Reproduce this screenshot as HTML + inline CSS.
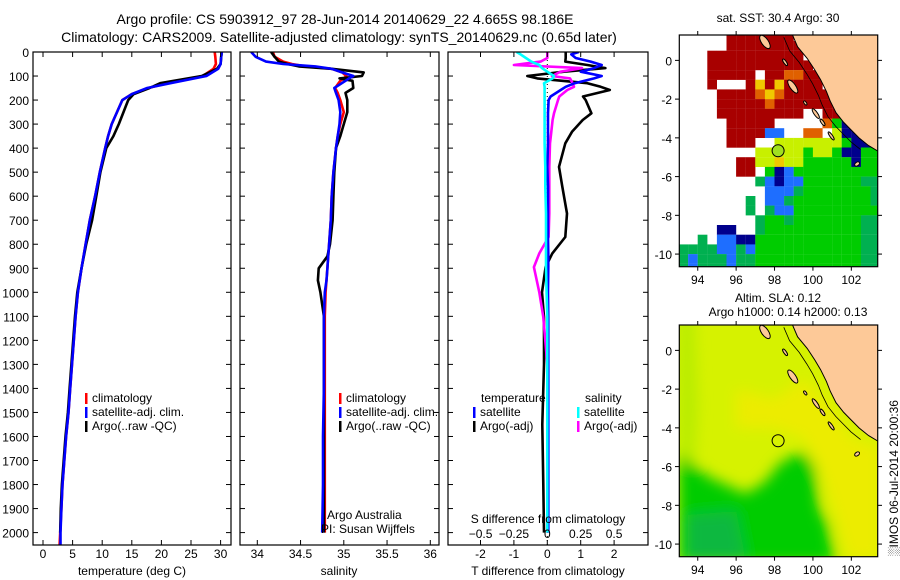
<!DOCTYPE html>
<html><head><meta charset="utf-8"><style>
html,body{margin:0;padding:0;background:#fff;}
svg{display:block;font-family:"Liberation Sans",sans-serif;}
text{font-size:12px;fill:#000;}
</style></head><body>
<svg id="chart" width="900" height="580" viewBox="0 0 900 580" xmlns="http://www.w3.org/2000/svg">
<defs>
<clipPath id="clipTop"><rect x="679.3" y="35" width="198.4" height="231.7"/></clipPath>
<clipPath id="clipBot"><rect x="679.3" y="325" width="198.4" height="231.7"/></clipPath>
<clipPath id="clipP1"><rect x="33" y="52" width="198" height="493"/></clipPath>
<clipPath id="clipP2"><rect x="240" y="52" width="199" height="493"/></clipPath>
<clipPath id="clipP3"><rect x="448" y="52" width="200" height="493"/></clipPath>
<filter id="blur" x="-20%" y="-20%" width="140%" height="140%"><feGaussianBlur stdDeviation="7"/></filter>
</defs>
<text x="345" y="24" text-anchor="middle" style="font-size:14px">Argo profile: CS 5903912_97 28-Jun-2014 20140629_22 4.665S 98.186E</text>
<text x="339" y="42" text-anchor="middle" style="font-size:14px">Climatology: CARS2009. Satellite-adjusted climatology: synTS_20140629.nc (0.65d later)</text>
<g id="g"></g>
</svg>
<script>
// ---------- data ----------
const depthTemp = [0,20,50,70,100,130,150,175,200,250,300,350,400,500,600,700,800,900,1000,1100,1200,1300,1400,1500,1600,1700,1800,1900,2000,2050];
const tempClim  = [29.0,29.1,29.2,28.8,27.0,21.0,17.8,15.0,13.4,12.5,11.6,11.0,10.5,9.6,8.8,7.9,7.2,6.5,5.9,5.5,5.2,4.9,4.6,4.3,3.9,3.6,3.3,3.1,2.9,2.8];
const tempSat   = [30.2,30.1,30.0,29.6,27.6,21.5,17.6,15.0,13.4,12.5,11.6,11.0,10.5,9.6,8.8,7.9,7.2,6.5,5.9,5.5,5.2,4.9,4.6,4.3,3.9,3.6,3.3,3.1,2.95,2.95];
const depthArgoT = [0,20,50,70,100,130,150,175,200,250,300,350,400,500,600,700,800,900,1000,1100,1200,1300,1400,1500,1600,1700,1800,1900,2000];
const tempArgo  = [30.2,30.1,30.0,29.4,26.8,19.8,18.0,15.3,14.4,13.6,12.8,11.9,10.7,9.7,9.0,8.3,7.3,6.5,5.8,5.4,5.1,4.8,4.5,4.2,3.8,3.5,3.2,3.0,2.9];
const depthSal = [0,20,40,50,60,70,85,100,110,120,150,170,200,250,300,350,400,500,600,700,800,850,900,950,1000,1100,1200,1400,1600,1800,2000];
const salClim = [34.18,34.2,34.3,34.4,34.56,34.86,34.98,35.03,35.0,34.96,34.9,34.93,34.96,35.0,34.96,34.93,34.91,34.88,34.86,34.85,34.83,34.82,34.81,34.8,34.79,34.78,34.78,34.78,34.78,34.78,34.78];
const salSat  = [33.93,33.98,34.1,34.3,34.67,34.86,34.98,35.11,35.06,35.02,34.89,34.91,34.94,34.96,34.95,34.93,34.91,34.88,34.86,34.85,34.83,34.82,34.81,34.8,34.78,34.77,34.77,34.77,34.76,34.76,34.75];
const salArgo = [34.16,34.2,34.25,34.35,34.48,34.86,35.23,35.21,34.95,35.1,35.11,35.02,35.04,35.04,35.0,34.96,34.91,34.89,34.88,34.87,34.84,34.81,34.71,34.70,34.73,34.77,34.77,34.77,34.77,34.77,34.77];
const depthDiff = [0,10,25,40,54,67,82,100,110,130,145,158,185,200,255,283,332,380,478,560,672,770,838,895,1000,1103,1300,1550,1800,2000];
const dTSat  = [0.94,0.72,0.85,1.3,1.63,1.4,1.0,1.63,1.4,0.82,0.55,0.4,0.1,0.04,0.02,0.02,0.02,0.02,0.0,0.02,0.02,0.02,0.03,0.03,0.02,0.03,0.03,0.03,0.03,0.03];
const dTArgo = [0.55,0.55,0.55,0.54,1.2,1.74,0.5,-0.6,-0.3,1.2,1.6,1.87,1.07,1.15,1.32,1.06,0.74,0.54,0.35,0.45,0.59,0.54,0.15,-0.05,-0.16,-0.1,-0.1,-0.15,-0.12,-0.1];
const dSSat  = [-0.23,-0.2,-0.16,-0.12,-0.06,-0.04,0.0,0.05,0.04,-0.025,-0.02,-0.02,-0.02,-0.02,-0.02,-0.02,-0.02,-0.02,-0.015,-0.015,-0.01,-0.01,-0.01,-0.01,-0.005,0,0,0,0,0];
const dSArgo = [0,0,0,-0.05,-0.25,0.26,0.1,0.035,0.17,0.19,0.2,0.15,0.09,0.08,0.05,0.04,0.03,0.02,0.015,0.015,0.015,0.01,-0.06,-0.1,-0.06,-0.03,0,0.005,0.005,0.005];
const depthTicks = [0,100,200,300,400,500,600,700,800,900,1000,1100,1200,1300,1400,1500,1600,1700,1800,1900,2000];
const tempTicks = [0,5,10,15,20,25,30];
const salTicks = [34,34.5,35,35.5,36];
const dTTicks = [-2,-1,0,1,2];
const dSTicks = [-0.5,-0.25,0,0.25,0.5];
const lonTicks = [94,96,98,100,102];
const latTicks = [0,-2,-4,-6,-8,-10];
// SST grid (0.5 deg cells, lon 93..103.5, lat 1.5..-11)
const sstRows = [
".....RRRRRRRLLLLLLLLL",
".....RRRRRRRRLLLLLLLL",
"...RRRRRRRRRRLLLLLLLL",
"...RRRRRRRRRRRLLLLLLL",
"...RRRRR.RROORRLLLLLL",
"...R...RYRYRRRRLLLLLL",
"....RRRROYORRRRRLLLLL",
"....RRRRRORRRRRRRLLLL",
"....RRRRRRRRR..RRRLLL",
".....RRRRR.....OGNLLL",
".....RRRRBB..OO.yNNLL",
".....RRR..yyyyyyyGNNN",
"........yyyyyGyyGNNGG",
"......RRyyYyyGGGGGNGG",
"......RR.GNBGGGGGGGGG",
"........gBNBBGGGGGGgg",
".........BBBgGGGGGGGg",
".......g.BBgGGGGGGGGg",
".......g.gBBGGGGGGGGG",
"........gGGgGGGGGGGgg",
"....NN..gGGGGGGGGGGgg",
"..g.BBNNGGGGGGGGGGGgg",
"ggggBBgBGGGGGGGGGGGgg",
"gBgggBggGGGGGGGGGGGgg",
"gBgggBggGGGGGGGGGGGgg"];
const argoLon = 98.186, argoLat = -4.665;

// ---------- scales ----------
const yD = d => 52 + d*0.2403;
const xT = t => 43 + t*5.92;
const xS = s => 257.3 + (s-34)*86.5;
const xDT = v => 547.3 + v*33.4;
const xDS = v => 547.3 + v*133.5;
const mX = lon => 679.3 + (lon-93.04)*19.2;
const mY = (lat,off) => off + 35 + (1.31-lat)*19.37;

const NS='http://www.w3.org/2000/svg';
const root=document.getElementById('g');
function mk(tag,attrs,parent){const e=document.createElementNS(NS,tag);for(const k in attrs)e.setAttribute(k,attrs[k]);(parent||root).appendChild(e);return e;}
function txt(x,y,s,anchor,parent){const t=mk('text',{x:x,y:y,'text-anchor':anchor||'start'},parent);t.textContent=s;return t;}

function line(xs,ds,fx,color,w,clip,name){
  let p='';
  for(let i=0;i<xs.length;i++){p+=(i?'L':'M')+fx(xs[i]).toFixed(1)+','+yD(ds[i]).toFixed(1);}
  const e=mk('path',{d:p,fill:'none',stroke:color,'stroke-width':w,'clip-path':'url(#'+clip+')','stroke-linejoin':'round'});
  
  
}
function box(x,y,w,h,name){const e=mk('rect',{x:x,y:y,width:w,height:h,fill:'none',stroke:'#000','stroke-width':1.2});
  
  }
function depthAxis(x0,x1,labels){
  depthTicks.forEach(d=>{const y=yD(d);
    mk('line',{x1:x0,y1:y,x2:x0+5,y2:y,stroke:'#000'});
    mk('line',{x1:x1,y1:y,x2:x1-5,y2:y,stroke:'#000'});
    if(labels){const t=txt(29,y+5,String(d),'end');
      
      }
  });
}
function xTicks(ticks,fx,labelY,fmt){
  ticks.forEach(v=>{const x=fx(v);
    mk('line',{x1:x,y1:52,x2:x,y2:57,stroke:'#000'});
    mk('line',{x1:x,y1:545,x2:x,y2:540,stroke:'#000'});
    if(labelY){const t=txt(x,labelY,fmt?fmt(v):String(v),'middle');
      
      }
  });
}
function legendBar(x,y,color,label){
  mk('rect',{x:x,y:y-9,width:2.5,height:11,fill:color});
  const t=txt(x+7,y,label);
  
  
}

// Panel 1 temperature
line(tempClim,depthTemp,xT,'#ff0000',2.6,'clipP1','temp-climatology-line');
line(tempArgo,depthArgoT,xT,'#000',2.6,'clipP1','temp-argo-line');
line(tempSat,depthTemp,xT,'#0000ff',2.6,'clipP1','temp-satellite-line');
box(33,52,198,493,'temperature-panel');
depthAxis(33,231,true);
xTicks(tempTicks,xT,558);
{const t=txt(132,575,'temperature (deg C)','middle');}
legendBar(85,402,'#ff0000','climatology');
legendBar(85,416,'#0000ff','satellite-adj. clim.');
legendBar(85,430,'#000','Argo(..raw -QC)');

// Panel 2 salinity
line(salClim,depthSal,xS,'#ff0000',2.6,'clipP2','sal-climatology-line');
line(salArgo,depthSal,xS,'#000',2.6,'clipP2','sal-argo-line');
line(salSat,depthSal,xS,'#0000ff',2.6,'clipP2','sal-satellite-line');
box(240,52,199,493,'salinity-panel');
depthAxis(240,439,false);
xTicks(salTicks,xS,558);
{const t=txt(339,575,'salinity','middle');}
legendBar(339,402,'#ff0000','climatology');
legendBar(339,416,'#0000ff','satellite-adj. clim.');
legendBar(339,430,'#000','Argo(..raw -QC)');
{const t=txt(327,519,'Argo Australia');
 const t2=txt(321,533,'PI: Susan Wijffels');}

// Panel 3 differences
mk('line',{x1:xDT(0),y1:52,x2:xDT(0),y2:545,stroke:'#000','stroke-dasharray':'1,3'});
line(dTArgo,depthDiff,xDT,'#000',2.6,'clipP3','dT-argo-line');
line(dSArgo,depthDiff,xDS,'#ff00ff',2.6,'clipP3','dS-argo-line');
line(dTSat,depthDiff,xDT,'#0000ff',2.6,'clipP3','dT-satellite-line');
line(dSSat,depthDiff,xDS,'#00ffff',2.6,'clipP3','dS-satellite-line');
box(448,52,200,493,'difference-panel');
depthAxis(448,648,false);
xTicks(dTTicks,xDT,558);
dSTicks.forEach(v=>{const t=txt(xDS(v),538,String(v).replace('-','\u2212'),'middle');
  
  });
{const t=txt(548,523,'S difference from climatology','middle');
 const t2=txt(548,575,'T difference from climatology','middle');}
{const t=txt(481,402,'temperature');
 const t2=txt(585,402,'salinity');}
legendBar(473,416,'#0000ff','satellite');
legendBar(473,430,'#000','Argo(-adj)');
legendBar(577,416,'#00ffff','satellite');
legendBar(577,430,'#ff00ff','Argo(-adj)');

// ---------- maps ----------
const land=[[98.9,1.4],[99.2,0.7],[99.7,0.1],[100.1,-0.5],[100.4,-1.0],[100.7,-1.6],[100.9,-2.1],[101.2,-2.7],[101.6,-3.2],[102.0,-3.6],[102.4,-4.0],[102.9,-4.4],[103.5,-4.75],[103.5,1.4]];
const islands=[[97.5,0.95,0.18,0.4],[98.55,-0.1,0.07,0.2],[98.95,-1.35,0.15,0.4],[99.6,-2.2,0.06,0.12],[100.15,-2.75,0.09,0.3],[100.5,-3.2,0.07,0.2],[100.95,-3.9,0.07,0.25],[102.3,-5.35,0.14,0.09]];
const sstColors={R:'#a80000',O:'#e06000',Y:'#f0c800',y:'#c8f000',G:'#00cc00',g:'#00b050',B:'#1e6eff',N:'#00008c'};
function mapFrame(off,name,clip){
  const g=mk('g',{'clip-path':'url(#'+clip+')'});
  
  
  return g;
}
function drawLand(g,off){
  let p='';land.forEach((c,i)=>{p+=(i?'L':'M')+mX(c[0]).toFixed(1)+','+mY(c[1],off).toFixed(1);});
  const e=mk('path',{d:p+'Z',fill:'#fdc998',stroke:'#000','stroke-width':1},g);
  
  
  islands.forEach(c=>{mk('ellipse',{cx:mX(c[0]),cy:mY(c[1],off),rx:c[2]*19.2,ry:c[3]*19.37,fill:'#fdc998',stroke:'#000','stroke-width':1,transform:'rotate(-35 '+mX(c[0])+' '+mY(c[1],off)+')'},g);});
  let q='';land.slice(0,12).forEach((c,i)=>{q+=(i?'L':'M')+(mX(c[0])-8).toFixed(1)+','+(mY(c[1],off)+4).toFixed(1);});
  mk('path',{d:q,fill:'none',stroke:'#000','stroke-width':0.8},g);
}
function mapAxes(off){
  box(679.3,35+off,198.4,231.7,off?'sla-map-frame':'sst-map-frame');
  lonTicks.forEach(l=>{const x=mX(l);
    mk('line',{x1:x,y1:35+off,x2:x,y2:31+off,stroke:'#000'});
    mk('line',{x1:x,y1:266.7+off,x2:x,y2:270.7+off,stroke:'#000'});
    const t=txt(x,284+off,String(l),'middle');
    
    });
  latTicks.forEach(l=>{const y=mY(l,off);
    mk('line',{x1:679.3,y1:y,x2:675,y2:y,stroke:'#000'});
    mk('line',{x1:877.7,y1:y,x2:882,y2:y,stroke:'#000'});
    const t=txt(672,y+5,String(l),'end');
    
    });
}
// Top SST map
{const g=mapFrame(0,'sst-map','clipTop');
 sstRows.forEach((row,j)=>{for(let i=0;i<row.length;i++){const ch=row[i];
   if(ch==='.'||ch==='L')continue;
   const lon0=93+0.5*i, lat0=1.5-0.5*j;
   const c=mk('rect',{x:mX(lon0).toFixed(1),y:mY(lat0,0).toFixed(1),width:9.7,height:9.8,fill:sstColors[ch]},g);
   
   
 }});
 drawLand(g,0);
 mk('circle',{cx:mX(argoLon),cy:mY(argoLat,0),r:6,fill:'#a0e020',stroke:'#000','stroke-width':1},g);
}
mapAxes(0);
{const t=txt(778,22,'sat. SST: 30.4 Argo: 30','middle');}
// Bottom SLA map
{const off=290;const g=mapFrame(off,'sla-map','clipBot');
 mk('rect',{x:679.3,y:325,width:198.4,height:231.7,fill:'#d6f200'},g);
 const b=mk('g',{filter:'url(#blur)'},g);
 const poly=(pts,fill)=>{let p='';pts.forEach((c,i)=>{p+=(i?'L':'M')+mX(c[0]).toFixed(1)+','+mY(c[1],off).toFixed(1);});mk('path',{d:p+'Z',fill:fill},b);};
 poly([[93,2],[93.8,2],[94,-3],[93.8,-6],[93,-6]],'#b8ec00');
 poly([[96,-2],[98,-2.5],[99.5,-1.5],[101,-3],[102,-4.5],[103.5,-5],[103.5,-10.8],[101.8,-10.8],[101,-8],[100.5,-6.5],[99.5,-4.5],[98,-4],[96,-4]],'#ecec00');
 poly([[93,-5.3],[94.5,-6.5],[96.5,-7.4],[97.5,-6.8],[98.3,-5.8],[99.5,-5.2],[100.1,-6],[100.3,-8],[100.9,-9.5],[101.2,-11],[93,-11]],'#00cc00');
 poly([[93.5,-8.5],[96,-8.3],[96.5,-10.8],[93.5,-10.8]],'#10b840');
 poly([[100.3,-8.6],[100.8,-8.8],[101,-11],[100.4,-11]],'#00d000');
 drawLand(g,off);
 mk('circle',{cx:mX(argoLon),cy:mY(argoLat,off),r:6,fill:'none',stroke:'#000','stroke-width':1},g);
}
mapAxes(290);
{const t=txt(778,302,'Altim. SLA: 0.12','middle');
 const t2=txt(788,316,'Argo h1000: 0.14 h2000: 0.13','middle');
 const t3=txt(0,0,'\u2591IMOS 06-Jul-2014 20:00:36');t3.setAttribute('transform','translate(898,556) rotate(-90)');
 }
</script>
</body></html>
